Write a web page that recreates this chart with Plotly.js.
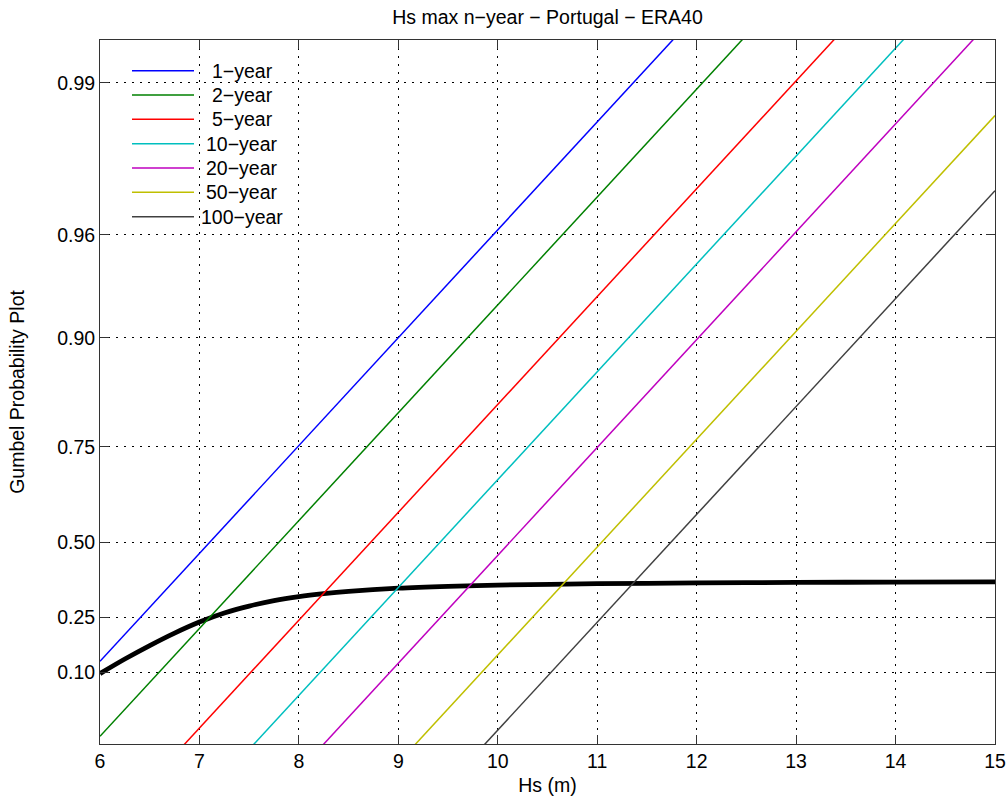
<!DOCTYPE html>
<html>
<head>
<meta charset="utf-8">
<script src="https://cdn.plot.ly/plotly-3.0.1.min.js"></script>
<style>html,body{margin:0;padding:0;background:#fff;}#chart{width:1008px;height:800px;}</style>
</head>
<body>
<div id="chart"></div>
<script>
// Return periods and their line colours
const seriesNames = ['1\u2212year', '2\u2212year', '5\u2212year', '10\u2212year', '20\u2212year', '50\u2212year', '100\u2212year'];
const seriesColors = ['#0000ff', '#008000', '#ff0000', '#00bfbf', '#bf00bf', '#bfbf00', '#404040'];
// Straight lines on the Gumbel paper: reduced variate at Hs = 6 m and Hs = 15 m
const lineHs = [6, 15];
const reducedAt6 = [-0.730, -1.421, -2.339, -3.032, -3.729, -4.647, -5.340];
const reducedAt15 = [8.216, 7.524, 6.607, 5.914, 5.216, 4.299, 3.606];
// Thick black curve (reduced variate)
const curveHs = [6, 6.25, 6.5, 6.75, 7, 7.25, 7.5, 7.75, 8, 8.25, 8.5, 9, 9.5, 10, 11, 12, 13, 14, 15];
const curveReduced = [-0.843, -0.709, -0.585, -0.470, -0.368, -0.285, -0.221, -0.170, -0.133, -0.106, -0.085, -0.056, -0.039, -0.028, -0.015, -0.008, -0.003, 0.000, 0.002];
// Probability tick labels
const probTicks = [0.10, 0.25, 0.50, 0.75, 0.90, 0.96, 0.99];
const probTickText = ['0.10', '0.25', '0.50', '0.75', '0.90', '0.96', '0.99'];
const xTicks = [6, 7, 8, 9, 10, 11, 12, 13, 14, 15];

const gumbel = p => -Math.log(-Math.log(p));

const traces = [];
traces.push({
  x: curveHs, y: curveReduced, type: 'scatter', mode: 'lines',
  line: {color: '#000000', width: 4.8, shape: 'spline', smoothing: 0.8}, showlegend: false, hoverinfo: 'skip'
});
seriesNames.forEach((n, i) => {
  traces.push({
    x: lineHs, y: [reducedAt6[i], reducedAt15[i]], type: 'scatter', mode: 'lines',
    name: n, showlegend: false,
    line: {color: seriesColors[i], width: 1.5}
  });
});

// MATLAB-style legend (centred labels, no box), laid out in plot-area pixels
const M = {l: 100, r: 13, t: 40, b: 56};
const plotW = 1008 - M.l - M.r, plotH = 800 - M.t - M.b;
const px2x = px => (px - M.l) / plotW;
const py2y = py => 1 - (py - M.t) / plotH;
const legLineX0 = 132, legLineX1 = 194, legTextX = 242, legRow0 = 70.7, legRowStep = 24.33;

const fnt = {family: '"Liberation Sans", Arial, Helvetica, sans-serif', size: 19.5, color: '#000'};
const shapes = [], annotations = [];
seriesNames.forEach((n, i) => {
  const yy = py2y(legRow0 + i * legRowStep);
  shapes.push({type: 'line', xref: 'paper', yref: 'paper', x0: px2x(legLineX0), x1: px2x(legLineX1), y0: yy, y1: yy,
    line: {color: seriesColors[i], width: 1.5}});
  annotations.push({xref: 'paper', yref: 'paper', x: px2x(legTextX), y: yy, xanchor: 'center', yanchor: 'middle',
    text: n, showarrow: false, font: fnt});
});

const layout = {
  width: 1008, height: 800,
  margin: M,
  paper_bgcolor: '#fff', plot_bgcolor: '#fff',
  font: fnt,
  title: {text: 'Hs max n\u2212year \u2212 Portugal \u2212 ERA40', font: fnt, x: 0.5, xref: 'paper', xanchor: 'center', y: 0.979, yref: 'container', yanchor: 'middle'},
  xaxis: {
    range: [6, 15], tickvals: xTicks, ticktext: xTicks.map(String),
    ticks: 'inside', ticklen: 9, tickcolor: '#333', tickwidth: 1,
    showline: true, linecolor: '#333', linewidth: 1, mirror: 'ticks',
    showgrid: true, gridcolor: '#000', griddash: '2px,6px', gridwidth: 1,
    zeroline: false, tickfont: fnt,
    title: {text: 'Hs (m)', font: fnt, standoff: 6}
  },
  yaxis: {
    range: [-1.492, 4.995], tickvals: probTicks.map(gumbel), ticktext: probTickText,
    ticks: 'inside', ticklen: 9, tickcolor: '#333', tickwidth: 1,
    showline: true, linecolor: '#333', linewidth: 1, mirror: 'ticks',
    showgrid: true, gridcolor: '#000', griddash: '2px,6px', gridwidth: 1,
    zeroline: false, tickfont: fnt,
    title: {text: 'Gumbel Probability Plot', font: fnt, standoff: 27}
  },
  shapes: shapes,
  annotations: annotations,
  showlegend: false
};

Plotly.newPlot('chart', traces, layout, {displayModeBar: false, staticPlot: true});
</script>
</body>
</html>
